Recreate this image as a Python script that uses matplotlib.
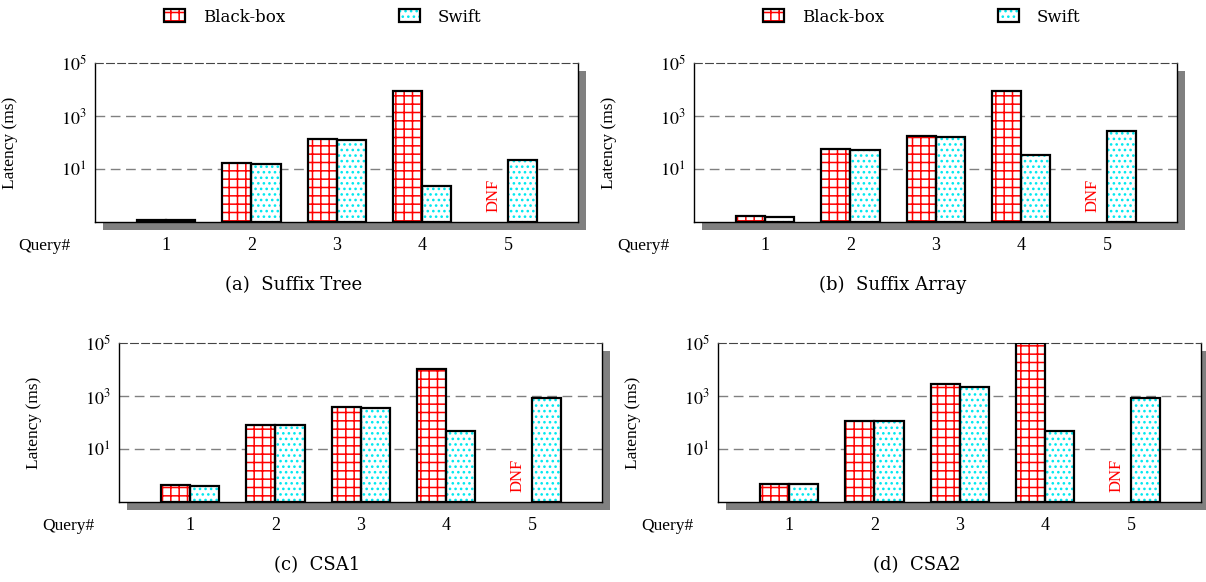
import matplotlib
matplotlib.use('Agg')
import matplotlib.pyplot as plt
import numpy as np
from matplotlib.patches import Patch, Rectangle
from matplotlib.transforms import ScaledTranslation, blended_transform_factory

plt.rcParams['font.family'] = ['Liberation Serif', 'DejaVu Serif']
plt.rcParams['mathtext.fontset'] = 'stix'
plt.rcParams['hatch.linewidth'] = 1.1

# Datos (latencia en ms, escala log); np.nan = DNF
queries = [1, 2, 3, 4, 5]
captions = ['(a)  Suffix Tree', '(b)  Suffix Array', '(c)  CSA1', '(d)  CSA2']

bb_tree = [0.12, 17, 132, 9100, np.nan]
sw_tree = [0.12, 16, 128, 2.3, 21]

bb_array = [0.17, 55, 175, 8800, np.nan]
sw_array = [0.16, 54, 165, 34, 270]

bb_csa1 = [0.42, 81, 380, 10700, np.nan]
sw_csa1 = [0.41, 79, 340, 49, 870]

bb_csa2 = [0.47, 117, 2950, 100000, np.nan]
sw_csa2 = [0.48, 114, 2100, 49, 870]

series = [(bb_tree, sw_tree), (bb_array, sw_array), (bb_csa1, sw_csa1), (bb_csa2, sw_csa2)]

W, H = 1206, 582
fig = plt.figure(figsize=(W / 100, H / 100), dpi=100)

# posiciones de los ejes en pixeles (izq, arriba)
pos_px = [(95, 63), (694, 63), (119, 343), (718, 343)]
aw, ah = 483, 159
ymin = 0.1
bw = 0.34
cian = '#00e8f0'

for k, ((izq, arr), (bb, sw), cap) in enumerate(zip(pos_px, series, captions)):
    ax = fig.add_axes([izq / W, 1 - (arr + ah) / H, aw / W, ah / H])
    x = np.array(queries)

    # relleno con trama (color de la trama = edgecolor)
    ax.bar(x - bw / 2, np.array(bb) - ymin, bw, bottom=ymin, color='white',
           edgecolor='red', hatch='++', linewidth=0, zorder=2)
    ax.bar(x + bw / 2, np.array(sw) - ymin, bw, bottom=ymin, color='white',
           edgecolor=cian, hatch='...', linewidth=0, zorder=2)
    # contornos negros
    ax.bar(x - bw / 2, np.array(bb) - ymin, bw, bottom=ymin, fill=False,
           edgecolor='black', linewidth=1.6, zorder=3)
    ax.bar(x + bw / 2, np.array(sw) - ymin, bw, bottom=ymin, fill=False,
           edgecolor='black', linewidth=1.6, zorder=3)

    # DNF
    trans = blended_transform_factory(ax.transData, ax.transAxes)
    for xi, v in zip(x, bb):
        if np.isnan(v):
            ax.text(xi - bw / 2, 0.06, 'DNF', color='red', rotation=90,
                    ha='center', va='bottom', fontsize=12, transform=trans)

    ax.set_yscale('log')
    ax.set_ylim(ymin, 1e5)
    ax.set_xlim(0.17, 5.82)
    ax.set_yticks([1e1, 1e3, 1e5])
    ax.set_yticklabels([r'$10^{1}$', r'$10^{3}$', r'$10^{5}$'])
    ax.yaxis.set_minor_locator(matplotlib.ticker.NullLocator())
    ax.set_xticks(queries)
    ax.set_xticklabels([str(q) for q in queries])
    ax.tick_params(axis='both', length=0, labelsize=13)
    ax.tick_params(axis='y', pad=6)
    ax.tick_params(axis='x', pad=11)

    for yv in [1e1, 1e3]:
        ax.axhline(yv, color='#808080', linewidth=1.0, linestyle=(0, (7, 4)), zorder=1)
    ax.spines['top'].set_linestyle((0, (7, 3)))
    ax.spines['top'].set_color('#444444')
    for s in ['left', 'right', 'bottom']:
        ax.spines[s].set_linewidth(1.0)

    ax.set_ylabel('Latency (ms)', fontsize=12.5)
    ax.yaxis.set_label_coords(-0.16, 0.5)
    ax.text(-0.05, -24 / ah, 'Query#', transform=ax.transAxes, ha='right',
            va='center', fontsize=12.5)

    # sombra gris
    off = ScaledTranslation(8 / 100, -8 / 100, fig.dpi_scale_trans)
    sombra = Rectangle((0, 0), 1, 1, transform=ax.transAxes + off,
                       facecolor='#808080', edgecolor='none', zorder=-1)
    fig.patches.append(sombra)

    fig.text((izq + aw / 2 - 43) / W, 1 - (arr + ah + 63) / H, cap,
             ha='center', va='center', fontsize=13, family='DejaVu Serif')

# leyendas
handles = [
    (Patch(facecolor='white', edgecolor='red', hatch='++', linewidth=0),
     Patch(fill=False, edgecolor='black', linewidth=1.6)),
    (Patch(facecolor='white', edgecolor=cian, hatch='...', linewidth=0),
     Patch(fill=False, edgecolor='black', linewidth=1.6)),
]
for cx in [323, 922]:
    fig.legend(handles, ['Black-box', 'Swift'], ncol=2, loc='center',
               bbox_to_anchor=(cx / W, 1 - 17 / H), frameon=False,
               handlelength=1.26, handleheight=0.84, handletextpad=1.08,
               columnspacing=6.8, prop={'family': 'DejaVu Serif', 'size': 12})

fig.savefig('out.png', dpi=100)
